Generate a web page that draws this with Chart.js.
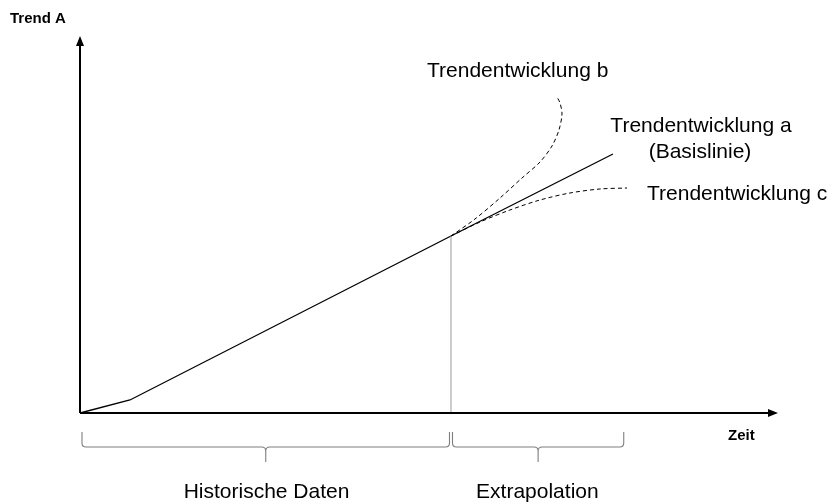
<!DOCTYPE html>
<html>
<head>
<meta charset="utf-8">
<script src="https://cdn.jsdelivr.net/npm/chart.js@4/dist/chart.umd.min.js"></script>
<style>
  html, body { margin: 0; padding: 0; background: #ffffff; }
  #wrap { width: 830px; height: 504px; }
</style>
</head>
<body>
<div id="wrap"><canvas id="c" width="830" height="504"></canvas></div>
<script>
// ---- Data (abstract units: time 0..100, trend 0..100) ----
const baseX   = [0, 7.16, 53.15, 76.36];
const baseY   = [0, 3.45, 46.95, 68.70];

const trendBX = [53.15, 56.59, 60.17, 63.32, 65.90, 67.62, 68.62, 69.05, 68.77, 68.34];
const trendBY = [46.95, 51.46, 57.03, 62.33, 66.58, 70.82, 75.07, 79.31, 82.23, 83.82];

const trendCX = [53.15, 57.31, 61.60, 65.90, 70.20, 74.50, 78.37];
const trendCY = [46.95, 50.66, 53.85, 56.50, 58.36, 59.42, 59.68];

const splitX  = 53.15;   // end of historical data
const extrapEndX = 77.9; // end of extrapolation range

const axisTitleY = "Trend A";
const axisTitleX = "Zeit";
const labelB = "Trendentwicklung b";
const labelA = ["Trendentwicklung a", "(Basislinie)"];
const labelC = "Trendentwicklung c";
const rangeLabels = ["Historische Daten", "Extrapolation"];

const pts = (xs, ys) => xs.map((x, i) => ({ x: x, y: ys[i] }));

const FONT = "'Liberation Sans', Arial, Helvetica, sans-serif";

const decorPlugin = {
  id: 'decor',
  afterDatasetsDraw(chart) {
    const ctx = chart.ctx;
    const xs = chart.scales.x, ys = chart.scales.y;
    const ca = chart.chartArea;
    const x0 = xs.getPixelForValue(0);
    const y0 = ys.getPixelForValue(0);
    ctx.save();

    // axes
    ctx.strokeStyle = '#000';
    ctx.fillStyle = '#000';
    ctx.lineWidth = 2;
    ctx.beginPath();
    ctx.moveTo(x0, y0);
    ctx.lineTo(x0, ca.top + 8);
    ctx.moveTo(x0, y0);
    ctx.lineTo(ca.right - 8, y0);
    ctx.stroke();
    // arrow heads
    ctx.beginPath();
    ctx.moveTo(x0, ca.top);
    ctx.lineTo(x0 - 4, ca.top + 10);
    ctx.lineTo(x0 + 4, ca.top + 10);
    ctx.closePath();
    ctx.fill();
    ctx.beginPath();
    ctx.moveTo(ca.right, y0);
    ctx.lineTo(ca.right - 10, y0 - 4);
    ctx.lineTo(ca.right - 10, y0 + 4);
    ctx.closePath();
    ctx.fill();

    // braces
    function brace(xa, xb) {
      const top = y0 + 19, mid = y0 + 34, tip = y0 + 49, r = 4;
      const xc = (xa + xb) / 2;
      ctx.beginPath();
      ctx.moveTo(xa, top);
      ctx.lineTo(xa, mid - r);
      ctx.quadraticCurveTo(xa, mid, xa + r, mid);
      ctx.lineTo(xc - r, mid);
      ctx.quadraticCurveTo(xc, mid, xc, mid + r);
      ctx.lineTo(xc, tip);
      ctx.moveTo(xc, mid + r);
      ctx.quadraticCurveTo(xc, mid, xc + r, mid);
      ctx.lineTo(xb - r, mid);
      ctx.quadraticCurveTo(xb, mid, xb, mid - r);
      ctx.lineTo(xb, top);
      ctx.stroke();
    }
    ctx.strokeStyle = '#7f7f7f';
    ctx.lineWidth = 1.1;
    const xs0 = xs.getPixelForValue(0) + 2;
    const xsp = xs.getPixelForValue(splitX);
    const xse = xs.getPixelForValue(extrapEndX);
    brace(xs0, xsp - 1.5);
    brace(xsp + 1.5, xse);

    // texts
    ctx.fillStyle = '#000';
    ctx.textBaseline = 'alphabetic';
    ctx.font = 'bold 15px ' + FONT;
    ctx.textAlign = 'left';
    ctx.fillText(axisTitleY, 10, 23);
    ctx.fillText(axisTitleX, 728, 440);

    ctx.font = '21px ' + FONT;
    ctx.textAlign = 'left';
    ctx.fillText(labelB, 427, 77);
    ctx.fillText(labelC, 647, 200);
    ctx.textAlign = 'center';
    ctx.fillText(labelA[0], 701, 132);
    ctx.fillText(labelA[1], 700, 158);
    ctx.fillText(rangeLabels[0], (xs0 + xsp) / 2, 498);
    ctx.fillText(rangeLabels[1], (xsp + xse) / 2, 498);
    ctx.restore();
  }
};

new Chart(document.getElementById('c'), {
  type: 'scatter',
  data: {
    datasets: [
      {
        label: 'split',
        data: [{ x: splitX, y: 0 }, { x: splitX, y: baseY[2] }],
        showLine: true, borderColor: '#9a9a9a', borderWidth: 1,
        pointRadius: 0, clip: false
      },
      {
        label: labelA.join(' '),
        data: pts(baseX, baseY),
        showLine: true, borderColor: '#000', borderWidth: 1.3,
        pointRadius: 0, tension: 0, clip: false
      },
      {
        label: labelB,
        data: pts(trendBX, trendBY),
        showLine: true, borderColor: '#000', borderWidth: 1,
        borderDash: [4, 3], pointRadius: 0, tension: 0.3, clip: false
      },
      {
        label: labelC,
        data: pts(trendCX, trendCY),
        showLine: true, borderColor: '#000', borderWidth: 1,
        borderDash: [4, 3], pointRadius: 0, tension: 0.3, clip: false
      }
    ]
  },
  options: {
    responsive: false,
    animation: false,
    layout: { padding: { left: 80, right: 52, top: 36, bottom: 91 } },
    scales: {
      x: { type: 'linear', min: 0, max: 100, display: false },
      y: { type: 'linear', min: 0, max: 100, display: false }
    },
    plugins: {
      legend: { display: false },
      tooltip: { enabled: false }
    }
  },
  plugins: [decorPlugin]
});
</script>
</body>
</html>
